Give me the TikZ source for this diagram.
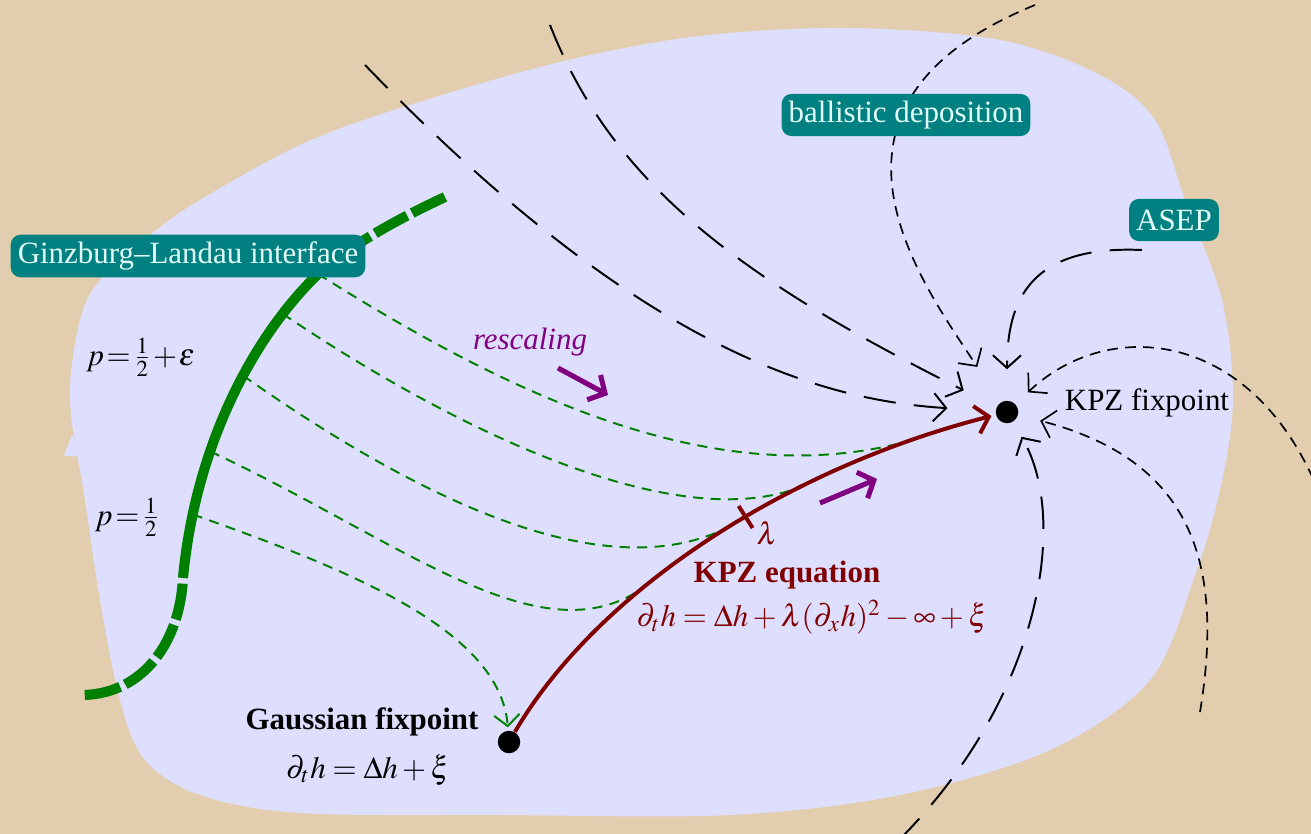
\documentclass[tikz,border=0pt]{standalone}
\usepackage{mathptmx}
\usepackage[no-math]{fontspec}
\setmainfont{Liberation Serif}
\usepackage{tikz}
\usetikzlibrary{arrows.meta, calc}
\definecolor{paper}{RGB}{226,206,174}
\definecolor{blob}{RGB}{222,222,255}
\definecolor{boxteal}{RGB}{0,128,128}
\definecolor{boxtext}{RGB}{225,252,248}
\definecolor{kpzred}{RGB}{128,0,0}
\definecolor{glgreen}{RGB}{0,128,0}
\definecolor{rescpurple}{RGB}{128,0,128}
\tikzset{
    flowlong/.style={draw=black, line width=0.7pt, dash pattern=on 11.5pt off 6.5pt},
    flowshort/.style={draw=black, line width=0.6pt, dash pattern=on 3.8pt off 2.6pt},
    flowtip/.style={-{Straight Barb[length=4.5pt,width=10pt]}},
    glline/.style={draw=glgreen, line width=3.6pt},
    glbroken/.style={glline, dash pattern=on 13pt off 2pt},
    glflow/.style={draw=glgreen, line width=0.7pt, dash pattern=on 3.6pt off 2.6pt},
    kpzline/.style={draw=kpzred, line width=1.4pt},
    rescarrow/.style={draw=rescpurple, line width=1.8pt, -{Straight Barb[length=4.5pt,width=10pt]}},
    fixpt/.style={circle, fill=black, inner sep=0pt, minimum size=8pt},
    modelbox/.style={fill=boxteal, text=boxtext, rounded corners=3.5pt, inner sep=2.5pt, minimum height=15pt}
}
\newcommand{\tightmath}{\thickmuskip=1.5mu \medmuskip=1mu}

\begin{document}
\begin{tikzpicture}[x=0.0125cm, y=-0.0125cm, font=\fontsize{11}{13}\selectfont]
    \useasboundingbox (0,0) rectangle (1311,834);
    \fill[paper] (0,0) rectangle (1311,834);
    \fill[blob] plot[smooth cycle, tension=0.55] coordinates {
        (100,280) (150,235) (200,200) (300,145) (400,108) (560,62) (700,36) (850,28) (1000,40)
        (1100,75) (1155,120) (1185,200) (1222,300) (1233,400) (1220,490)
        (1195,575) (1150,680) (1050,750) (900,795) (730,815) (500,815)
        (300,813) (200,795) (145,760) (120,700) (100,600) (85,500) (70,400) (80,320)};
    \fill[blob] (72,435) -- (64,456) -- (84,456) -- cycle;

    \node[fixpt] (gauss) at (509,742) {};
    \node[fixpt] (kpz) at (1007,412) {};

    \coordinate (a0) at (365,65);
    \coordinate (b0) at (550,25);
    \coordinate (ball0) at (1035,5);
    \coordinate (asep0) at (1142,250);
    \coordinate (e0) at (1320,495);
    \coordinate (f0) at (1200,712);
    \coordinate (g0) at (897,842);
    \draw[flowlong, flowtip, shorten >=17pt] (a0) .. controls (640,350) and (820,400) .. (kpz);
    \draw[flowlong, flowtip, shorten >=13pt] (b0) .. controls (612,183) and (739,278) .. (kpz);
    \draw[flowshort, flowtip, shorten >=15pt] (ball0) .. controls (790,105) and (920,280) .. (kpz);
    \draw[flowlong, flowtip, shorten >=11pt] (asep0) .. controls (1030,245) and (1007,300) .. (kpz);
    \draw[flowshort, flowtip, shorten >=6pt] (e0) .. controls (1255,330) and (1110,315) .. (kpz);
    \draw[flowshort, flowtip, shorten >=8pt] (f0) .. controls (1225,560) and (1190,460) .. (kpz);
    \draw[flowlong, flowtip, shorten >=6pt] (g0) .. controls (1040,700) and (1070,520) .. (kpz);

    \coordinate (glA) at (445,197);
    \coordinate (glB) at (318,274);
    \coordinate (glC) at (183,578);
    \coordinate (glD) at (84,695);
    \draw[glbroken] (glA) .. controls (400,218) and (350,245) .. (glB);
    \draw[glline] (glB) .. controls (250,340) and (195,450) .. (glC)
        coordinate[pos=0.18] (g2) coordinate[pos=0.41] (g3)
        coordinate[pos=0.65] (g4) coordinate[pos=0.83] (g5);
    \draw[glbroken, dash phase=13pt] (glC) .. controls (180,640) and (145,693) .. (glD);

    \path (gauss) .. controls (595,595) and (780,470) .. (kpz)
        coordinate[pos=0.37] (m4) coordinate[pos=0.58] (m3)
        coordinate[pos=0.69] (m2) coordinate[pos=0.87] (m1);
    \draw[glflow] (glB) .. controls (518,400) and (721,494) .. (m1);
    \draw[glflow] (g2) .. controls (453,429) and (680,540) .. (m2);
    \draw[glflow] (g3) .. controls (420,500) and (620,600) .. (m3);
    \draw[glflow] (g4) .. controls (400,540) and (540,660) .. (m4);
    \draw[glflow, -{Straight Barb[length=4pt,width=9pt]}, shorten >=1pt] (g5) .. controls (350,570) and (500,630) .. (gauss);

    \draw[kpzline, -{Straight Barb[length=4.5pt,width=10pt]}, shorten >=1.5pt] (gauss) .. controls (595,595) and (780,470) .. (kpz);
    \draw[kpzline] ($(m3)+(-7,-11)$) -- ($(m3)+(7,11)$);
    \node[text=kpzred] (lam) at (767,533) {$\lambda$};

    \node[text=rescpurple] (resc) at (530,342) {\textit{rescaling}};
    \coordinate (r1s) at (558,368);
    \coordinate (r1e) at (608,395);
    \coordinate (r2s) at (820,503);
    \coordinate (r2e) at (877,479);
    \draw[rescarrow] (r1s) -- (r1e);
    \draw[rescarrow] (r2s) -- (r2e);

    \node[text=kpzred] (kpzeq) at (787,575) {\bfseries KPZ equation};
    \node[text=kpzred] (kpzform) at (812,617) {$\medmuskip=2.5mu \thickmuskip=4mu \partial_t h = \Delta h + \lambda(\partial_x h)^2 - \infty + \xi$};
    \node (gausslab) at (362,722) {\bfseries Gaussian fixpoint};
    \node (gaussform) at (368,770) {$\partial_t h = \Delta h + \xi$};
    \node[anchor=west] (kpzlab) at (1055,403) {KPZ fixpoint};
    \node[anchor=east] (peps) at (205,357) {$\tightmath p=\frac{1}{2}+\varepsilon$};
    \node[anchor=east] (phalf) at (170,517) {$\tightmath p=\frac{1}{2}$};

    \node[modelbox] (gl) at (188,256) {Ginzburg--Landau interface};
    \node[modelbox] (ballistic) at (906,115) {ballistic deposition};
    \node[modelbox] (asep) at (1174,220) {ASEP};
\end{tikzpicture}
\end{document}
